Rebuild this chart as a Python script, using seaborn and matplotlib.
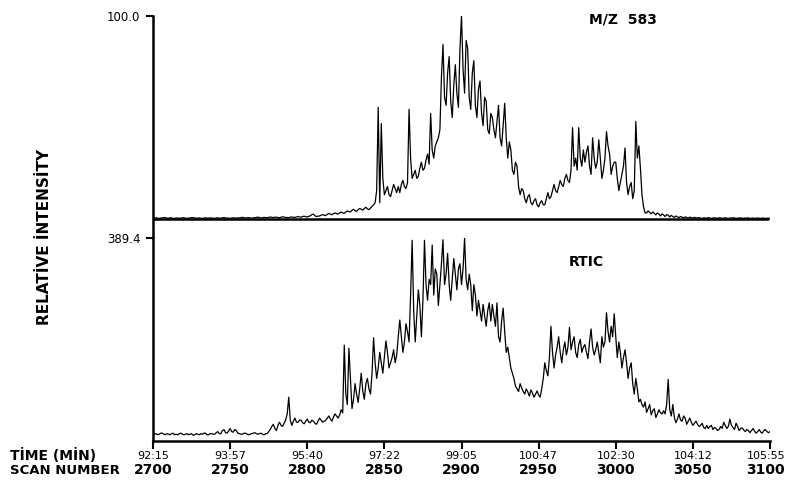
import numpy as np
import pandas as pd
import matplotlib
matplotlib.use("Agg")
import matplotlib.pyplot as plt
import seaborn as sns
from matplotlib.transforms import blended_transform_factory

# One value per scan, scans 2700-3100
scan = np.arange(2700, 3101)

# Extracted ion current for m/z 583 (relative, 0-100)
mz583 = [
    0.4, 0.5, 0.6, 0.4, 0.3, 0.5, 0.5, 0.7, 0.7, 0.4, 0.4, 0.6, 0.6, 0.3, 0.3, 0.5, 0.5, 0.4, 0.4, 0.6,
    0.6, 0.4, 0.3, 0.5, 0.5, 0.7, 0.7, 0.5, 0.4, 0.5, 0.5, 0.4, 0.3, 0.5, 0.6, 0.4, 0.4, 0.6, 0.4, 0.5,
    0.3, 0.5, 0.6, 0.4, 0.4, 0.6, 0.7, 0.5, 0.5, 0.4, 0.3, 0.5, 0.6, 0.5, 0.4, 0.6, 0.5, 0.7, 0.8, 0.6,
    0.5, 0.6, 0.7, 0.5, 0.4, 0.6, 0.6, 0.8, 0.9, 0.7, 0.5, 0.6, 0.8, 0.7, 0.6, 0.8, 1.0, 0.8, 0.7, 0.9,
    0.9, 0.7, 0.6, 0.9, 1.1, 0.9, 0.8, 0.7, 0.7, 0.9, 1.0, 0.8, 0.8, 1.0, 1.2, 1.0, 0.9, 1.2, 1.4, 1.1,
    1.0, 1.3, 1.6, 2.2, 2.4, 1.6, 1.2, 1.4, 1.5, 1.9, 2.2, 1.8, 1.7, 2.3, 2.8, 2.4, 2.1, 2.6, 3.0, 2.6,
    2.4, 3.0, 3.4, 3.0, 2.8, 3.5, 4.0, 3.6, 3.5, 4.3, 4.8, 4.0, 3.8, 4.6, 5.2, 4.8, 4.4, 5.1, 5.8, 5.0,
    4.6, 5.4, 6.2, 7.0, 8.0, 14, 55, 8, 47, 20, 12, 14, 16, 12, 11, 14, 17, 15, 13, 16,
    13, 17, 19, 16, 15, 18, 54, 30, 20, 22, 24, 20, 21, 25, 28, 24, 25, 29, 32, 27,
    52, 34, 30, 36, 38, 40, 44, 70, 86, 60, 56, 72, 80, 58, 50, 66, 76, 62, 55, 84,
    100, 74, 62, 88, 84, 60, 54, 72, 78, 56, 50, 64, 68, 52, 46, 60, 58, 44, 42, 52,
    50, 44, 40, 48, 56, 40, 36, 46, 57, 40, 30, 38, 34, 24, 22, 28, 26, 16, 12, 15,
    14, 10, 8, 11, 12, 8, 7, 9, 10, 7, 6, 8, 9, 7, 7, 10, 13, 10, 11, 14,
    17, 14, 13, 16, 19, 17, 16, 20, 22, 19, 18, 24, 45, 26, 30, 24, 45, 30, 26, 34,
    28, 33, 36, 26, 22, 40, 30, 25, 28, 39, 30, 20, 24, 30, 43, 36, 32, 22, 26, 28,
    28, 20, 14, 18, 22, 26, 35, 18, 12, 16, 18, 10, 14, 48, 30, 36, 25, 12, 6, 3,
    3.0, 4.0, 3.2, 2.5, 3.5, 2.8, 2.0, 3.0, 2.4, 1.5, 2.5, 2.0, 1.2, 2.2, 1.8, 1.0, 1.8, 1.2, 0.8, 1.5,
    1.0, 0.7, 1.2, 0.9, 0.6, 1.0, 0.8, 0.5, 0.9, 0.7, 0.4, 0.8, 0.6, 0.5, 0.7, 0.4, 0.3, 0.6, 0.5, 0.4,
    0.7, 0.5, 0.3, 0.5, 0.6, 0.4, 0.4, 0.6, 0.5, 0.3, 0.5, 0.6, 0.4, 0.3, 0.5, 0.4, 0.6, 0.5, 0.3, 0.4,
    0.5, 0.6, 0.3, 0.4, 0.5, 0.4, 0.6, 0.3, 0.4, 0.5, 0.3, 0.4, 0.5, 0.4, 0.3, 0.5, 0.4, 0.3, 0.4, 0.3,
    0.4,
]

# Reconstructed total ion current (full scale 389.4)
rtic = [
    12, 13, 14, 12, 13, 15, 15, 13, 12, 14, 13, 12, 14, 15, 12, 13, 12, 14, 15, 13,
    12, 13, 14, 12, 13, 14, 11, 12, 14, 13, 12, 14, 13, 15, 15, 12, 12, 14, 14, 13,
    13, 16, 18, 14, 14, 20, 22, 16, 15, 19, 24, 18, 17, 22, 20, 15, 14, 13, 13, 15,
    15, 13, 12, 13, 14, 15, 16, 14, 13, 14, 15, 13, 12, 14, 14, 18, 22, 28, 32, 24,
    20, 30, 36, 30, 28, 34, 40, 52, 84, 40, 30, 38, 44, 36, 36, 40, 40, 35, 33, 38,
    42, 36, 35, 40, 38, 34, 32, 38, 44, 40, 36, 38, 40, 44, 48, 42, 38, 46, 52, 48,
    44, 50, 60, 54, 184, 90, 70, 178, 120, 62, 80, 110, 90, 74, 100, 130, 96, 80, 110, 120,
    100, 90, 130, 198, 150, 120, 140, 170, 150, 130, 160, 192, 170, 140, 150, 160, 175, 150, 165, 200,
    232, 200, 170, 190, 225, 210, 190, 280, 385, 250, 190, 240, 290, 260, 200, 270, 385, 300, 270, 310,
    300, 376, 280, 330, 320, 260, 300, 340, 386, 300, 320, 360, 300, 270, 310, 350, 320, 290, 330, 340,
    300, 330, 389, 310, 290, 320, 300, 250, 300, 280, 240, 270, 250, 230, 262, 240, 220, 250, 265, 230,
    262, 240, 220, 265, 200, 190, 230, 255, 210, 170, 180, 160, 140, 130, 120, 105, 100, 95, 110, 102,
    95, 90, 100, 94, 86, 98, 92, 84, 90, 96, 88, 84, 100, 120, 150, 135, 125, 160, 220, 170,
    140, 165, 180, 200, 170, 150, 175, 190, 165, 180, 218, 175, 190, 200, 170, 160, 185, 195, 170, 180,
    185, 170, 158, 190, 215, 180, 165, 175, 190, 170, 150, 200, 180, 190, 246, 210, 190, 220, 200, 244,
    200, 160, 190, 170, 140, 160, 175, 150, 120, 140, 150, 110, 90, 120, 100, 75, 80, 70, 65, 75,
    55, 62, 70, 50, 58, 62, 45, 52, 60, 54, 52, 58, 52, 70, 118, 60, 48, 70, 45, 35,
    42, 52, 40, 38, 48, 44, 32, 38, 44, 36, 30, 34, 38, 32, 28, 30, 34, 26, 24, 30,
    24, 28, 30, 22, 26, 24, 20, 22, 28, 24, 36, 30, 24, 28, 42, 30, 26, 22, 34, 28,
    20, 24, 25, 21, 18, 22, 20, 16, 20, 24, 19, 15, 18, 22, 17, 15, 20, 22, 18, 16,
    18,
]

tick_scans = [2700, 2750, 2800, 2850, 2900, 2950, 3000, 3050, 3100]
tick_times = ["92:15", "93:57", "95:40", "97:22", "99:05",
              "100:47", "102:30", "104:12", "105:55"]

top_full_scale = 100.0
bottom_full_scale = 389.4

sns.set_theme(style="white")
plt.rcParams["font.family"] = ["DejaVu Sans"]
plt.rcParams.update({"text.color": "black", "axes.labelcolor": "black",
                     "xtick.color": "black", "ytick.color": "black"})

W, H = 787, 482
fig = plt.figure(figsize=(W / 100, H / 100), dpi=100)

def fx(px):
    return px / W

def fy(py):
    return 1 - py / H

x0, x1 = 153, 770
top_y0, top_base, panel_split, bot_base = 16, 219, 238, 441

ax_top = fig.add_axes([fx(x0), fy(panel_split), fx(x1) - fx(x0), fy(top_y0) - fy(panel_split)])
ax_bot = fig.add_axes([fx(x0), fy(bot_base), fx(x1) - fx(x0), fy(panel_split) - fy(bot_base)])

df_top = pd.DataFrame({"scan": scan, "intensity": mz583})
df_bot = pd.DataFrame({"scan": scan, "intensity": rtic})

sns.lineplot(data=df_top, x="scan", y="intensity", ax=ax_top,
             color="black", lw=0.9, estimator=None)
sns.lineplot(data=df_bot, x="scan", y="intensity", ax=ax_bot,
             color="black", lw=0.9, estimator=None)

# top panel: baseline at 0 sits above the gap down to the lower panel
gap = (panel_split - top_base) / (top_base - top_y0) * top_full_scale
ax_top.set_ylim(-gap, top_full_scale)
ax_bot.set_ylim(0, bottom_full_scale)
for ax in (ax_top, ax_bot):
    ax.set_xlim(tick_scans[0], tick_scans[-1])
    ax.set_xlabel("")
    ax.set_ylabel("")
    for s in ("top", "right"):
        ax.spines[s].set_visible(False)
    ax.spines["left"].set_linewidth(1.8)
    ax.spines["left"].set_color("black")

ax_top.spines["bottom"].set_visible(False)
ax_top.axhline(0, color="black", lw=1.8, xmax=0.997)
ax_top.set_xticks([])
ax_top.set_yticks([top_full_scale], labels=["100.0"])

ax_bot.spines["bottom"].set_linewidth(1.8)
ax_bot.spines["bottom"].set_color("black")
ax_bot.set_yticks([bottom_full_scale], labels=["389.4"])
ax_bot.set_xticks(tick_scans, labels=[""] * len(tick_scans))

for ax in (ax_top, ax_bot):
    ax.tick_params(axis="y", direction="out", length=5, width=1.5,
                   color="black", labelsize=8.5, pad=4, left=True)
ax_bot.tick_params(axis="x", direction="out", length=6, width=1.5,
                   color="black", bottom=True)

# two-row tick labels: elution time and scan number
trans = blended_transform_factory(ax_bot.transData, ax_bot.transAxes)
for k, (sc, tm) in enumerate(zip(tick_scans, tick_times)):
    dx = -3 if k == len(tick_scans) - 1 else 0
    ax_bot.annotate(tm, xy=(sc, 0), xycoords=trans, xytext=(dx, -10.5),
                    textcoords="offset points", ha="center", va="center",
                    fontsize=8)
    ax_bot.annotate(str(sc), xy=(sc, 0), xycoords=trans, xytext=(dx, -21),
                    textcoords="offset points", ha="center", va="center",
                    fontsize=10, fontweight="bold")

fig.text(fx(10), fy(455), "TİME (MİN)", ha="left", va="center",
         fontsize=10, fontweight="bold")
fig.text(fx(10), fy(470), "SCAN NUMBER", ha="left", va="center",
         fontsize=9.5, fontweight="bold")
fig.text(fx(45), fy(237), "RELATİVE İNTENSİTY", rotation=90,
         ha="center", va="center", fontsize=11, fontweight="bold")

ax_top.text(0.762, 0.982, "M/Z  583", transform=ax_top.transAxes,
            ha="center", va="center", fontsize=10, fontweight="bold")
ax_bot.text(0.702, 0.882, "RTIC", transform=ax_bot.transAxes,
            ha="center", va="center", fontsize=10, fontweight="bold")

fig.savefig("out.png", dpi=100, facecolor="white")
